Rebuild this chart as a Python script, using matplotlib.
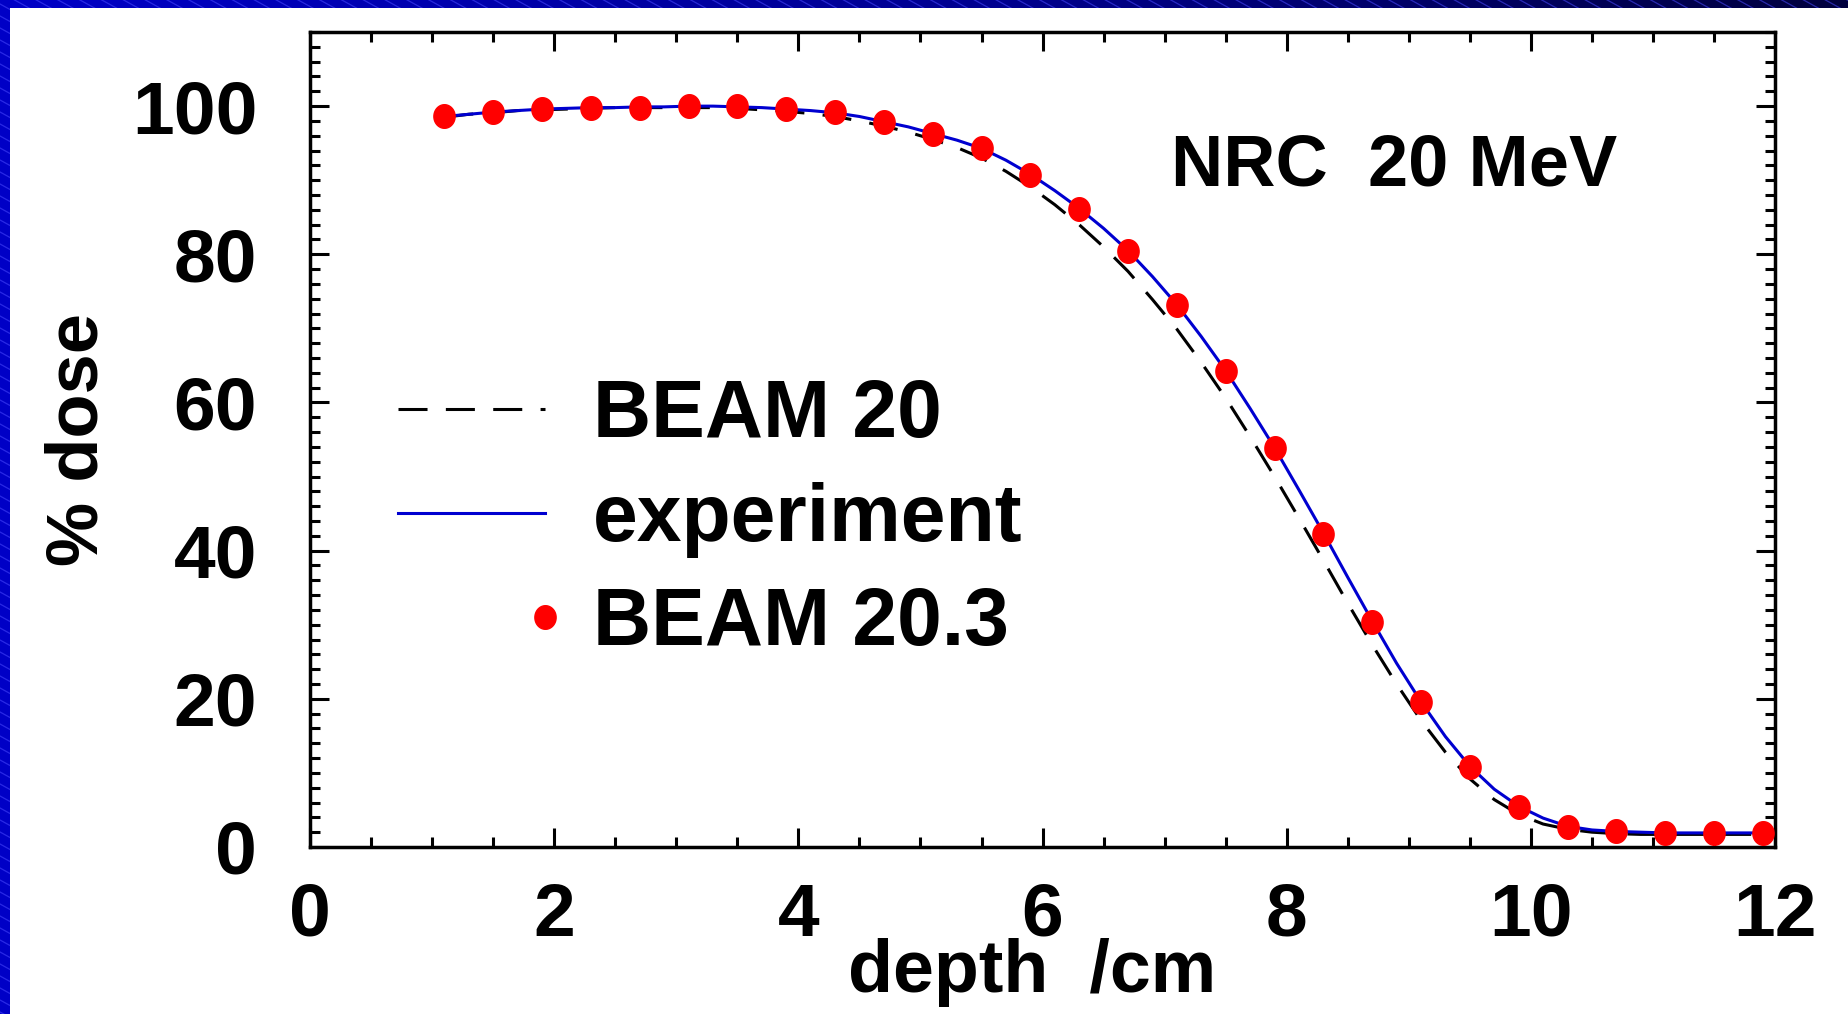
import matplotlib
matplotlib.use('Agg')  # без вікна, тільки файл
import matplotlib.pyplot as plt
import numpy as np
from matplotlib.legend_handler import HandlerLine2D
from matplotlib.patches import Rectangle
from matplotlib.path import Path

plt.rcParams['font.family'] = ['Liberation Sans', 'DejaVu Sans']
plt.rcParams['font.weight'] = 'bold'

# Розрахунок BEAM 20.3 (точки)
depth_pts = [1.1, 1.5, 1.9, 2.3, 2.7, 3.1, 3.5, 3.9, 4.3, 4.7, 5.1, 5.5, 5.9, 6.3,
             6.7, 7.1, 7.5, 7.9, 8.3, 8.7, 9.1, 9.5, 9.9, 10.3, 10.7, 11.1, 11.5, 11.9]
dose_beam203 = [98.7, 99.2, 99.6, 99.8, 99.8, 100.0, 100.0, 99.6, 99.2, 97.9, 96.3, 94.4, 90.7, 86.1,
                80.4, 73.1, 64.2, 53.8, 42.2, 30.4, 19.6, 10.8, 5.4, 2.7, 2.1, 1.9, 1.9, 1.9]

# Вимірювання та BEAM 20 (лінії)
depth_line = [1.1, 1.3, 1.5, 1.7, 1.9, 2.1, 2.3, 2.5, 2.7, 2.9, 3.1, 3.3, 3.5, 3.7,
              3.9, 4.1, 4.3, 4.5, 4.7, 4.9, 5.1, 5.3, 5.5, 5.7, 5.9, 6.1, 6.3, 6.5,
              6.7, 6.9, 7.1, 7.3, 7.5, 7.7, 7.9, 8.1, 8.3, 8.5, 8.7, 8.9, 9.1, 9.3,
              9.5, 9.7, 9.9, 10.1, 10.3, 10.5, 10.7, 10.9, 11.1, 11.3, 11.5, 11.7, 11.9]
dose_experiment = [98.6, 98.9, 99.2, 99.4, 99.6, 99.7, 99.8, 99.8, 99.9, 99.9, 100.0, 100.0, 99.9, 99.8,
                   99.6, 99.4, 99.1, 98.6, 97.9, 97.2, 96.3, 95.4, 94.3, 92.7, 90.8, 88.6, 86.2, 83.5,
                   80.5, 77.0, 73.2, 68.9, 64.3, 59.2, 53.9, 48.2, 42.4, 36.4, 30.5, 24.8, 19.6, 14.9,
                   10.9, 7.8, 5.5, 3.9, 2.8, 2.3, 2.1, 2.0, 1.9, 1.9, 1.9, 1.9, 1.9]
dose_beam20 = [98.5, 98.9, 99.1, 99.4, 99.5, 99.6, 99.7, 99.8, 99.8, 99.8, 99.8, 99.8, 99.7, 99.5,
               99.3, 99.0, 98.6, 98.0, 97.3, 96.5, 95.5, 94.4, 93.0, 91.2, 89.1, 86.7, 84.0, 81.0,
               77.7, 73.9, 69.9, 65.4, 60.6, 55.4, 50.0, 44.4, 38.7, 32.9, 27.3, 22.0, 17.1, 12.8,
               9.2, 6.4, 4.4, 3.1, 2.4, 2.0, 1.8, 1.7, 1.7, 1.7, 1.7, 1.7, 1.7]

x_ticks = [0, 2, 4, 6, 8, 10, 12]
y_ticks = [0, 20, 40, 60, 80, 100]


class EndMarkerHandler(HandlerLine2D):
    # маркер у легенді ставимо в правий кінець, а не посередині
    def create_artists(self, *args, **kwargs):
        arts = super().create_artists(*args, **kwargs)
        for a in arts:
            a.set_markevery([2])
        return arts


W, H = 1849, 1014
fig = plt.figure(figsize=(W / 100, H / 100), dpi=100)

# синя смугаста рамка зліва і зверху
bg = fig.add_axes([0, 0, 1, 1])
bg.set_axis_off()
bg.set_xlim(0, W)
bg.set_ylim(H, 0)
blue = np.interp(np.arange(W), [0, 1000, W], [0.78, 0.56, 0.24])
img = np.zeros((1, W, 3))
img[0, :, 2] = blue
bg.imshow(img, extent=(0, W, H, 0), aspect='auto', zorder=0)
for c in np.arange(-1100, H, 12):
    bg.plot([0, W], [c, c + 0.55 * W], color='#4a4aff', lw=0.9, alpha=0.55, zorder=1)
bg.add_patch(Rectangle((10, 8), W, H, facecolor='white', edgecolor='none', zorder=3))

ax = fig.add_axes([0.1677, 0.1647, 0.9600 - 0.1677, 0.9684 - 0.1647])
ax.set_facecolor('white')

t = np.linspace(0, 2 * np.pi, 60)
ellipse = Path(np.column_stack([0.9 * np.cos(t), np.sin(t)]))

line_b20, = ax.plot(depth_line, dose_beam20, color='black', lw=2.2, dashes=(9.5, 6),
                    label='BEAM 20', zorder=2)
line_exp, = ax.plot(depth_line, dose_experiment, color='#0000d0', lw=2.2,
                    label='experiment', zorder=3)
pts, = ax.plot(depth_pts, dose_beam203, ls='none', marker=ellipse, ms=17,
               color='#ff0000', label='BEAM 20.3', zorder=4, clip_on=False)

ax.set_xlim(0, 12)
ax.set_ylim(0, 110)
ax.set_xticks(x_ticks)
ax.set_xticks(np.arange(0, 12.01, 0.5), minor=True)
ax.set_yticks(y_ticks)
ax.set_yticks(np.arange(0, 110.1, 2), minor=True)

ax.tick_params(which='both', direction='in', top=True, right=True, width=2.2, color='black')
ax.tick_params(which='major', length=14)
ax.tick_params(which='minor', length=7)
ax.tick_params(axis='x', labelsize=54, pad=25)
ax.tick_params(axis='y', labelsize=54, pad=38)
for s in ax.spines.values():
    s.set_linewidth(2.5)

ax.set_xlabel('depth  /cm', fontsize=53, fontweight='bold', va='center')
ax.xaxis.set_label_coords(0.493, -0.154)
ax.set_ylabel('% dose', fontsize=52, fontweight='bold', va='center')
ax.yaxis.set_label_coords(-0.158, 0.5)

ax.text(0.588, 0.812, 'NRC  20 MeV', transform=ax.transAxes, fontsize=52,
        fontweight='bold', ha='left', va='baseline')

ax.legend(handles=[line_b20, line_exp, pts], handler_map={pts: EndMarkerHandler()},
          loc='center left', bbox_to_anchor=(0.06, 0.401), frameon=False,
          fontsize=58, numpoints=1, handlelength=1.82, handletextpad=0.6,
          labelspacing=0.345, borderpad=0, borderaxespad=0)

fig.savefig('out.png', dpi=100)
